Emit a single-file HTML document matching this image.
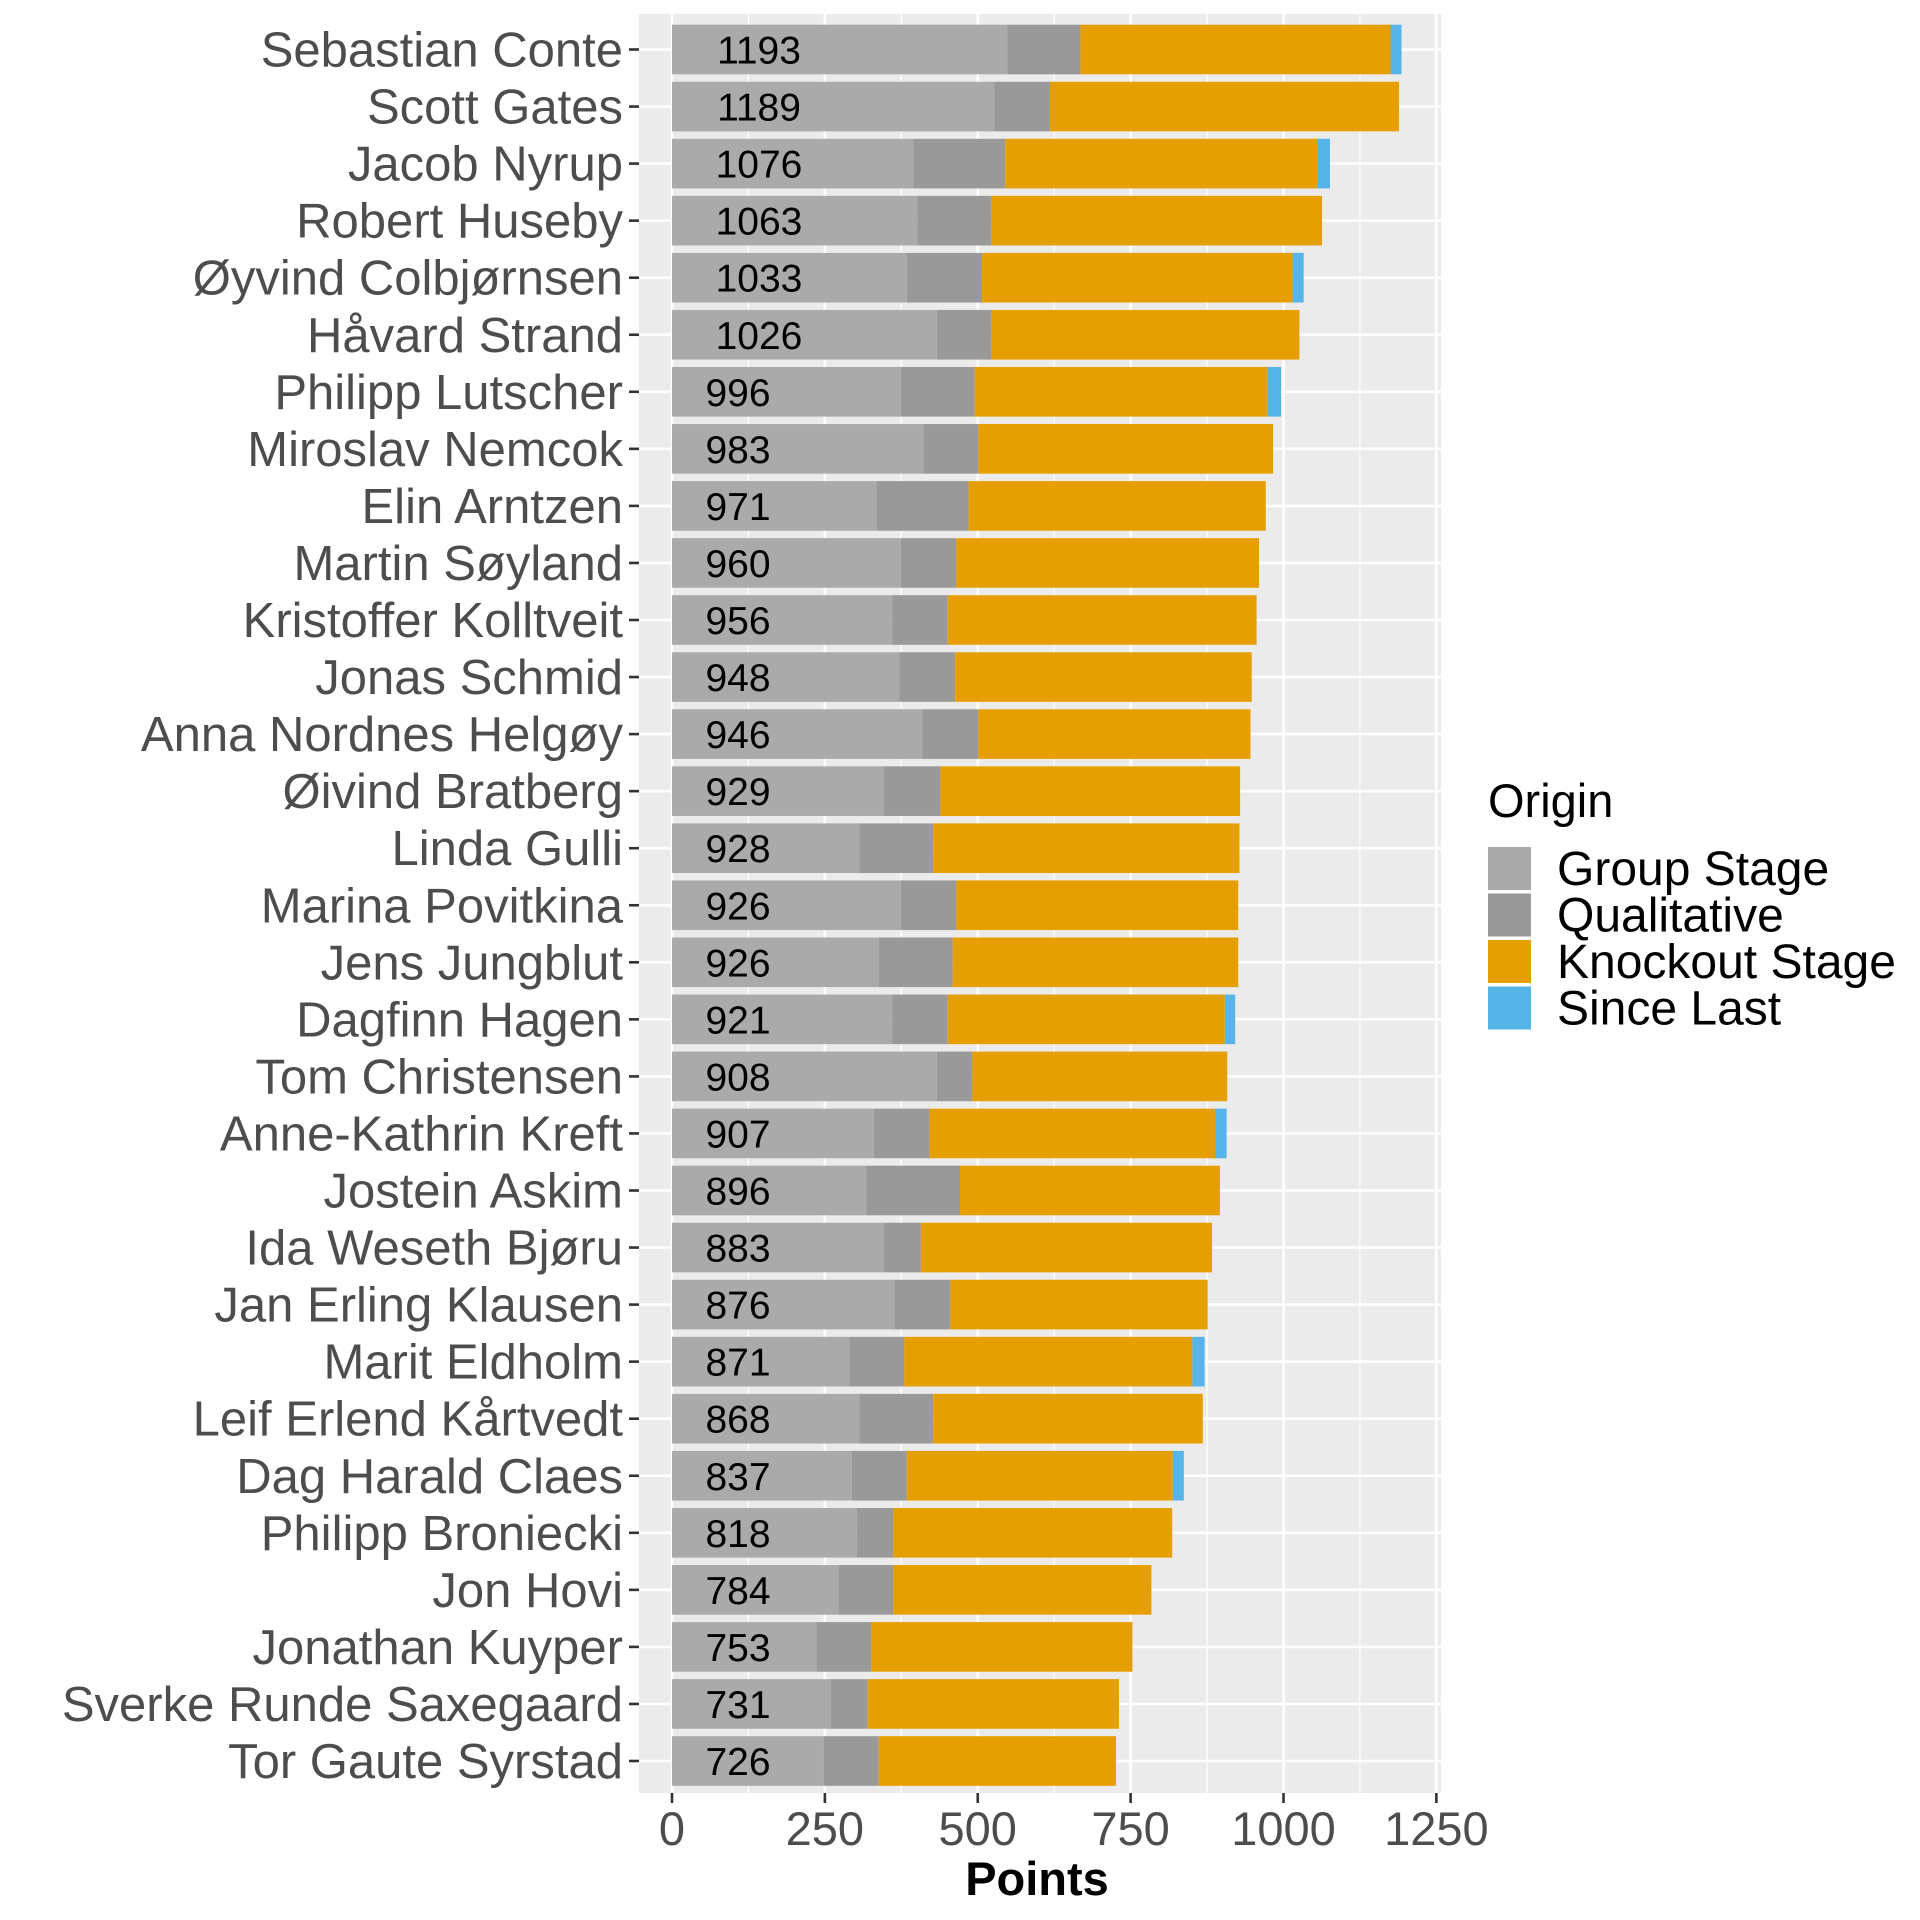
<!DOCTYPE html>
<html><head><meta charset="utf-8">
<style>
html,body{margin:0;padding:0;background:#fff;}
svg{display:block;font-family:"Liberation Sans",sans-serif;}
</style></head>
<body>
<svg id="chart" width="1920" height="1920" viewBox="0 0 1920 1920">
<rect x="639" y="14" width="802" height="1779" fill="#EBEBEB"/>
<g id="grid"></g><g id="bars"></g><g id="ylabels"></g><g id="xaxis"></g>
<text x="1037" y="1895" font-size="47" font-weight="bold" text-anchor="middle" fill="#000">Points</text>
<g>
<text x="1488" y="817" font-size="47" fill="#000">Origin</text>
</g><g id="legend"></g>
</svg>
<script>
const names=["Sebastian Conte","Scott Gates","Jacob Nyrup","Robert Huseby","Øyvind Colbjørnsen","Håvard Strand","Philipp Lutscher","Miroslav Nemcok","Elin Arntzen","Martin Søyland","Kristoffer Kolltveit","Jonas Schmid","Anna Nordnes Helgøy","Øivind Bratberg","Linda Gulli","Marina Povitkina","Jens Jungblut","Dagfinn Hagen","Tom Christensen","Anne-Kathrin Kreft","Jostein Askim","Ida Weseth Bjøru","Jan Erling Klausen","Marit Eldholm","Leif Erlend Kårtvedt","Dag Harald Claes","Philipp Broniecki","Jon Hovi","Jonathan Kuyper","Sverke Runde Saxegaard","Tor Gaute Syrstad"];
const groupStage=[548,527,395,401,384,433,374,411,334,374,360,372,409,346,306,374,338,360,433,330,318,346,364,290,306,294,302,272,236,260,248];
const qualitative=[120,91,150,122,123,90,121,90,151,91,91,91,92,93,121,91,121,91,58,91,153,61,91,90,121,90,60,90,90,60,90];
const knockout=[507,571,510,540,508,503,479,482,486,495,505,485,445,490,501,461,467,453,417,467,425,476,421,471,441,435,456,422,427,411,388];
const sinceLast=[18,0,21,0,18,0,22,0,0,0,0,0,0,0,0,0,0,17,0,19,0,0,0,20,0,18,0,0,0,0,0];
const xTicks=[0,250,500,750,1000,1250];
const seriesNames=["Group Stage","Qualitative","Knockout Stage","Since Last"];
const colors=["#AAAAAA","#999999","#E69F00","#56B4E9"];
const NS="http://www.w3.org/2000/svg";
const x=v=>672+v*0.6115;
const n=names.length;
const y=i=>49.5+i*(1761-49.5)/(n-1);
const bh=0.87*(1761-49.5)/(n-1);
function mk(tag,attrs,parent){const e=document.createElementNS(NS,tag);for(const k in attrs)e.setAttribute(k,attrs[k]);parent.appendChild(e);return e;}
const grid=document.getElementById('grid');
for(let t=125;t<1250;t+=250){const l=mk('line',{x1:x(t),x2:x(t),y1:14,y2:1793,stroke:'#fff','stroke-width':1.3},grid);

}
xTicks.forEach(t=>{const l=mk('line',{x1:x(t),x2:x(t),y1:14,y2:1793,stroke:'#fff','stroke-width':2.6},grid);

});
for(let i=0;i<n;i++){const l=mk('line',{x1:639,x2:1441,y1:y(i),y2:y(i),stroke:'#fff','stroke-width':2.6},grid);

}
const bars=document.getElementById('bars');
const series=[groupStage,qualitative,knockout,sinceLast];
for(let i=0;i<n;i++){
 let acc=0;
 series.forEach((s,k)=>{
  const v=s[i]; if(v<=0){return;}
  const r=mk('rect',{x:x(acc),y:y(i)-bh/2,width:x(acc+v)-x(acc),height:bh,fill:colors[k]},bars);
  
  
  acc+=v;
 });
 const tot=String(acc);
 const t=mk('text',{x:tot.length>3?759:738,y:y(i)+14,'font-size':39,'text-anchor':'middle',fill:'#000'},bars);
 t.textContent=tot;
 
 
 const yl=mk('text',{x:623,y:y(i)+17,'font-size':49,'text-anchor':'end',fill:'#4D4D4D'},document.getElementById('ylabels'));
 yl.textContent=names[i];
 
 
 const tk=mk('line',{x1:629,x2:639,y1:y(i),y2:y(i),stroke:'#333','stroke-width':2.6},document.getElementById('ylabels'));
 
 
}
const xa=document.getElementById('xaxis');
xTicks.forEach(t=>{
 const tk=mk('line',{x1:x(t),x2:x(t),y1:1793,y2:1803,stroke:'#333','stroke-width':2.6},xa);
 
 
 const tl=mk('text',{x:x(t),y:1845,'font-size':47,'text-anchor':'middle',fill:'#4D4D4D'},xa);
 tl.textContent=t;
 
 
});
const lg=document.getElementById('legend');
seriesNames.forEach((s,k)=>{
 const ky=847+k*46.5;
 const r=mk('rect',{x:1488,y:ky,width:43,height:43,fill:colors[k]},lg);
 
 
 const t=mk('text',{x:1557,y:ky+38,'font-size':48,fill:'#000'},lg);
 t.textContent=s;
 
 
});
</script>
</body></html>
